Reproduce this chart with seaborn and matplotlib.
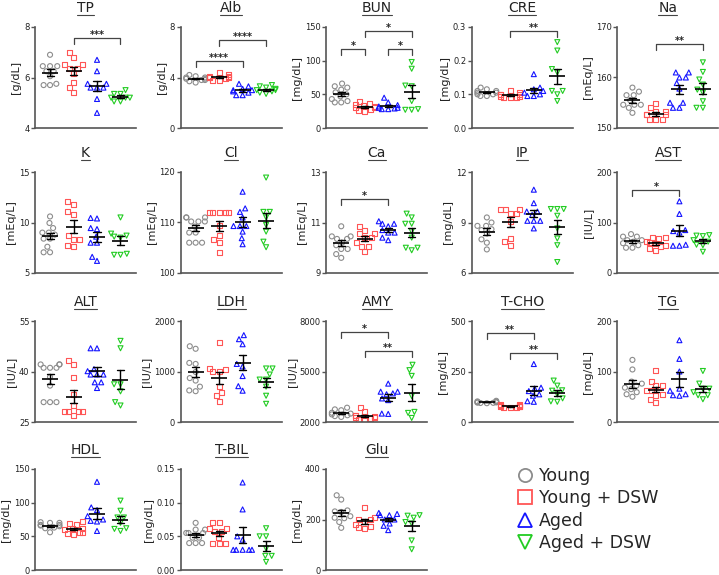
import matplotlib
matplotlib.use("Agg")
import matplotlib.pyplot as plt
from matplotlib.lines import Line2D
import numpy as np
import pandas as pd
import seaborn as sns

GROUPS = ["Young", "Young + DSW", "Aged", "Aged + DSW"]
COLORS = ["#8c8c8c", "#ff5555", "#1414ff", "#22cc22"]
MARKERS = ["o", "s", "^", "v"]

PANELS = ["TP", "Alb", "BUN", "CRE", "Na",
          "K", "Cl", "Ca", "IP", "AST",
          "ALT", "LDH", "AMY", "T-CHO", "TG",
          "HDL", "T-BIL", "Glu"]
UNITS = ["[g/dL]", "[g/dL]", "[mg/dL]", "[mg/dL]", "[mEq/L]",
         "[mEq/L]", "[mEq/L]", "[mEq/L]", "[mg/dL]", "[IU/L]",
         "[IU/L]", "[IU/L]", "[IU/L]", "[mg/dL]", "[mg/dL]",
         "[mg/dL]", "[mg/dL]", "[mg/dL]"]
YTICKS = [[4, 6, 8], [0, 4, 8], [0, 50, 100, 150], [0, 0.1, 0.2, 0.3], [150, 160, 170],
          [5, 10, 15], [100, 110, 120], [9, 11, 13], [6, 9, 12], [0, 100, 200],
          [25, 40, 55], [0, 1000, 2000], [2000, 5000, 8000], [0, 250, 500], [0, 100, 200],
          [0, 50, 100, 150], [0, 0.05, 0.10, 0.15], [0, 200, 400]]
YTICKLABELS = [["4", "6", "8"], ["0", "4", "8"], ["0", "50", "100", "150"],
               ["0.0", "0.1", "0.2", "0.3"], ["150", "160", "170"],
               ["5", "10", "15"], ["100", "110", "120"], ["9", "11", "13"],
               ["6", "9", "12"], ["0", "100", "200"],
               ["25", "40", "55"], ["0", "1000", "2000"], ["2000", "5000", "8000"],
               ["0", "250", "500"], ["0", "100", "200"],
               ["0", "50", "100", "150"], ["0.00", "0.05", "0.10", "0.15"], ["0", "200", "400"]]

# values per group: Young, Young + DSW, Aged, Aged + DSW
TP = [[6.9, 6.45, 6.45, 6.45, 6.25, 6.25, 6.05, 5.75, 5.7, 5.7],
      [7.0, 6.8, 6.5, 6.5, 6.35, 6.35, 6.15, 5.8, 5.6, 5.4],
      [6.7, 6.25, 5.75, 5.75, 5.6, 5.6, 5.6, 5.15, 4.6],
      [5.5, 5.35, 5.35, 5.2, 5.2, 5.2, 5.05, 5.05]]
ALB = [[4.2, 4.1, 4.0, 4.0, 3.9, 3.9, 3.8, 3.8, 3.7, 3.6],
       [4.4, 4.2, 4.1, 4.1, 4.0, 4.0, 4.0, 3.9, 3.8, 3.8],
       [3.5, 3.3, 3.1, 3.0, 3.0, 2.9, 2.8, 2.6, 2.6],
       [3.4, 3.3, 3.2, 3.1, 3.0, 3.0, 2.9, 2.8, 2.7]]
BUN = [[66, 62, 60, 57, 53, 50, 47, 43, 40, 38, 38],
       [40, 37, 35, 33, 32, 31, 30, 28, 26, 24],
       [45, 38, 34, 32, 30, 30, 29, 28, 28],
       [98, 88, 63, 62, 40, 28, 27, 27]]
CRE = [[0.12, 0.115, 0.11, 0.11, 0.105, 0.105, 0.1, 0.1, 0.095, 0.095],
       [0.11, 0.105, 0.1, 0.1, 0.1, 0.095, 0.095, 0.09, 0.09, 0.09],
       [0.16, 0.12, 0.115, 0.11, 0.105, 0.1, 0.095, 0.095],
       [0.255, 0.23, 0.175, 0.165, 0.11, 0.11, 0.1, 0.08]]
NA = [[158, 157.2, 156.5, 156.5, 155.5, 154.6, 154.6, 154.6, 154, 153],
      [154.8, 154, 153.3, 153.3, 152.6, 152.6, 152.6, 151.6, 151.6, 151.6],
      [161, 161, 160, 160, 158.9, 157.8, 155, 155, 154, 154],
      [163, 161.1, 159.6, 158.6, 157.6, 157, 155.3, 154, 154]]
K = [[10.6, 9.95, 9.45, 9.0, 9.0, 8.8, 8.4, 8.4, 7.6, 7.05, 7.05],
     [12.1, 11.8, 11.1, 10.8, 8.7, 8.3, 8.3, 7.7, 7.6],
     [10.45, 10.4, 9.45, 9.35, 8.6, 8.0, 8.0, 6.6, 6.2],
     [10.5, 8.9, 8.7, 8.6, 8.5, 6.9, 6.8, 6.8]]
CL = [[111, 111, 111, 110.2, 110.2, 110.2, 109.2, 108, 108, 106, 106, 106],
      [112, 112, 112, 112, 112, 109.4, 107.5, 106.7, 106, 104],
      [116.1, 112.8, 112.1, 111.0, 109.3, 109.3, 109.3, 108.2, 106.9, 105.7],
      [118.9, 112.1, 112.1, 111, 109.5, 108.2, 106.2, 105.1]]
CA = [[10.85, 10.45, 10.45, 10.35, 10.35, 10.2, 10.1, 9.95, 9.95, 9.75, 9.6],
      [10.85, 10.7, 10.55, 10.55, 10.4, 10.4, 10.2, 10.05, 10.05, 9.85],
      [11.05, 10.95, 10.95, 10.85, 10.7, 10.6, 10.6, 10.4, 10.3],
      [11.35, 11.2, 10.95, 10.95, 10.65, 10.4, 10.0, 10.0, 9.9]]
IP = [[9.3, 9.0, 8.8, 8.8, 8.6, 8.55, 8.35, 8.0, 7.8, 7.4],
      [9.8, 9.8, 9.8, 9.55, 9.55, 9.05, 8.05, 7.85, 7.65],
      [10.95, 10.15, 9.65, 9.65, 9.45, 9.1, 9.1, 9.1, 8.65],
      [9.8, 9.8, 9.8, 9.4, 8.65, 8.05, 7.65, 6.65]]
AST = [[77, 72, 72, 65, 65, 62, 59, 55, 50, 50],
       [70, 70, 68, 62, 60, 58, 55, 52, 48, 44],
       [142, 117, 85, 83, 80, 56, 54, 54],
       [75, 74, 73, 65, 62, 56, 55, 42]]
ALT = [[42.1, 42.1, 42.1, 41.1, 41.1, 41.1, 38.4, 35.8, 30.9, 30.9, 30.9],
       [43.3, 42.1, 38.1, 33.2, 30, 28, 28, 28, 28, 27],
       [46.9, 46.9, 40.7, 40.1, 39.1, 39.1, 39.1, 36.8, 36.8, 35.1],
       [49.1, 46.9, 36.2, 36.2, 34.1, 30.9, 29.9]]
LDH = [[1500, 1450, 1170, 1150, 990, 870, 820, 700, 625, 610],
       [1570, 1050, 1040, 1000, 1000, 700, 590, 520, 410],
       [1720, 1640, 1540, 1150, 1100, 910, 710, 620],
       [1060, 1060, 940, 840, 840, 700, 520, 360]]
AMY = [[2850, 2750, 2700, 2550, 2500, 2450, 2400, 2350, 2300],
       [2850, 2600, 2400, 2400, 2300, 2280, 2250, 2200, 2150, 2100],
       [4280, 3800, 3800, 3700, 3650, 3400, 3300, 2500, 2480],
       [5400, 5080, 4740, 3540, 2600, 2540, 2240]]
TCHO = [[105, 102, 100, 100, 98, 97, 96, 95, 94, 93],
        [88, 85, 82, 80, 78, 76, 75, 72, 70, 70],
        [287, 170, 165, 153, 137, 130, 103, 100],
        [205, 180, 157, 155, 137, 117, 102, 100]]
TG = [[123, 104, 80, 76, 72, 68, 65, 59, 55, 50],
      [102, 80, 73, 72, 63, 62, 55, 53, 45, 38],
      [162, 125, 100, 66, 62, 55, 53, 52],
      [101, 76, 66, 66, 59, 53, 53, 45]]
HDL = [[71, 70, 70, 67, 67, 66, 65, 63, 62, 56],
       [72, 69, 68, 62, 61, 60, 56, 55, 54, 52],
       [131, 93, 89, 80, 75, 73, 72, 58],
       [103, 88, 78, 78, 70, 62, 61, 58]]
TBIL = [[0.07, 0.06, 0.06, 0.055, 0.055, 0.055, 0.048, 0.048, 0.04, 0.04, 0.04],
        [0.07, 0.07, 0.062, 0.062, 0.057, 0.057, 0.049, 0.04, 0.04, 0.04],
        [0.13, 0.09, 0.05, 0.045, 0.03, 0.03, 0.03, 0.03, 0.03],
        [0.062, 0.05, 0.05, 0.032, 0.021, 0.021, 0.012]]
GLU = [[296, 279, 236, 232, 230, 213, 207, 205, 190, 167],
       [246, 209, 200, 200, 191, 180, 172, 168, 164],
       [226, 222, 217, 217, 200, 200, 184, 175, 158],
       [217, 215, 207, 190, 184, 117, 82]]

VALUES = [TP, ALB, BUN, CRE, NA, K, CL, CA, IP, AST,
          ALT, LDH, AMY, TCHO, TG, HDL, TBIL, GLU]

# significance brackets: (group a, group b, height, label)
SIG = {
    "TP": [(1, 3, 7.55, "***")],
    "Alb": [(0, 2, 5.33, "****"), (1, 3, 7.0, "****")],
    "BUN": [(0, 1, 117, "*"), (2, 3, 117, "*"), (1, 3, 144, "*")],
    "CRE": [(1, 3, 0.287, "**")],
    "Na": [(1, 3, 166.6, "**")],
    "Ca": [(0, 2, 11.94, "*")],
    "AST": [(0, 2, 165, "*")],
    "AMY": [(0, 2, 7340, "*"), (1, 3, 6240, "**")],
    "T-CHO": [(0, 2, 442, "**"), (1, 3, 340, "**")],
}

sns.set_style("ticks")
plt.rcParams["font.family"] = ["DejaVu Sans"]
AXC = "#555555"

W, H = 719, 575
fig = plt.figure(figsize=(W / 100, H / 100), dpi=100)

lefts = [35 + 145.6 * c for c in range(5)]
tops = [27, 172, 321, 469]

titles = []
for i, name in enumerate(PANELS):
    r, c = divmod(i, 5)
    ax = fig.add_axes([lefts[c] / W, 1 - (tops[r] + 101) / H, 101 / W, 101 / H])
    rows = []
    for g, vals in zip(GROUPS, VALUES[i]):
        rows += [(g, v) for v in vals]
    df = pd.DataFrame(rows, columns=["group", "value"])

    for g, col, mk in zip(GROUPS, COLORS, MARKERS):
        sub = df[df["group"] == g]
        sns.swarmplot(data=sub, x="group", y="value", order=GROUPS, ax=ax,
                      color=col, marker=mk, size=3.6, linewidth=0.8,
                      facecolor="none", edgecolor=col, zorder=2, warn_thresh=1)
        ax.collections[-1].set_facecolor("none")
        ax.collections[-1].set_edgecolor(col)

    sns.pointplot(data=df, x="group", y="value", order=GROUPS, ax=ax,
                  errorbar="se", capsize=0.3, color="black",
                  marker="_", markersize=12, markeredgewidth=1.2,
                  linestyle="none", err_kws={"linewidth": 1.0, "zorder": 3},
                  zorder=3)

    ticks = YTICKS[i]
    ax.set_ylim(ticks[0], ticks[-1])
    ax.set_yticks(ticks)
    ax.set_yticklabels(YTICKLABELS[i])
    ax.set_xlim(-0.64, 3.66)
    ax.set_xticks([])
    ax.set_xlabel("")
    ax.set_ylabel(UNITS[i], fontsize=8, labelpad=2, color="#222222")
    ax.tick_params(axis="y", labelsize=6, length=3, width=1, color=AXC,
                   labelcolor="#222222", pad=1)
    sns.despine(ax=ax)
    for s in ["left", "bottom"]:
        ax.spines[s].set_color(AXC)
        ax.spines[s].set_linewidth(1.2)

    span = ticks[-1] - ticks[0]
    for a, b, y, lab in SIG.get(name, []):
        ax.plot([a, a, b, b], [y - 0.06 * span, y, y, y - 0.06 * span],
                color="#444444", lw=0.9, clip_on=False, zorder=4)
        ax.annotate(lab, ((a + b) / 2, y), xytext=(0, -1.5),
                    textcoords="offset points", ha="center", va="bottom",
                    fontsize=7, fontweight="bold", color="#222222",
                    annotation_clip=False)

    titles.append(ax.set_title(name, fontsize=10, pad=10.5, color="#222222"))

handles = [Line2D([], [], linestyle="none", marker=m, markersize=9.5,
                  markerfacecolor="none", markeredgecolor=c, markeredgewidth=1.3)
           for m, c in zip(MARKERS, COLORS)]
fig.legend(handles, GROUPS, loc="upper left", bbox_to_anchor=(516 / W, 1 - 467 / H),
           frameon=False, fontsize=12.5, handletextpad=0.3, labelspacing=0.25,
           handlelength=1.0, borderpad=0, borderaxespad=0)

# underline the panel titles
fig.canvas.draw()
renderer = fig.canvas.get_renderer()
for t in titles:
    bb = t.get_window_extent(renderer)
    y = (bb.y0 + 0.8) / H
    fig.add_artist(Line2D([bb.x0 / W, bb.x1 / W], [y, y], color="#444444", lw=0.8))

fig.savefig("out.png", dpi=100)
